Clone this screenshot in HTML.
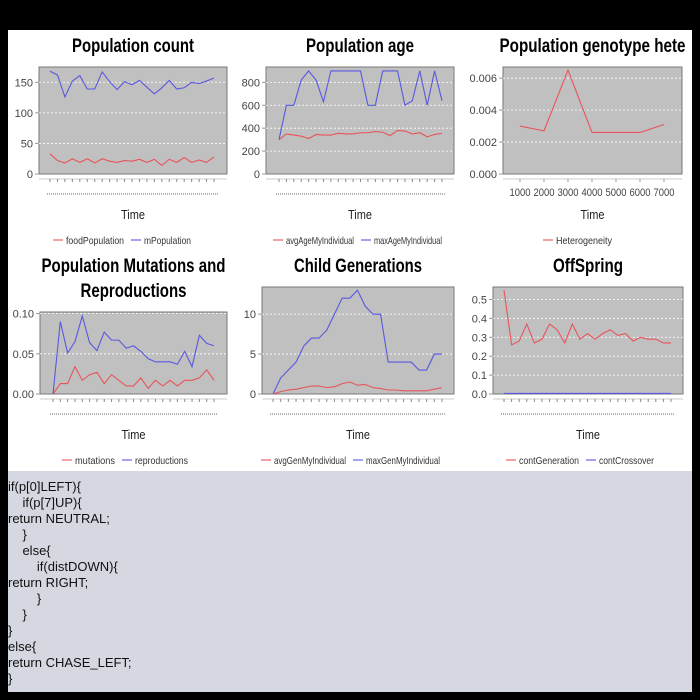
<!DOCTYPE html>
<html><head><meta charset="utf-8"><style>
body{margin:0;background:#000;width:700px;height:700px;overflow:hidden;font-family:"Liberation Sans",sans-serif}
#panel{position:absolute;left:8px;top:30px;width:684px;height:441px;background:#fff}
#code{position:absolute;left:8px;top:471px;width:684px;height:221px;background:#d5d8e1;font-size:13px;color:#111;line-height:16px;padding-top:8px;box-sizing:border-box}
#code div{white-space:pre;height:16px}
svg{position:absolute;left:0;top:0}
</style></head><body>
<div id="panel"></div>
<svg id="svg" width="700" height="700"></svg>
<div id="code">
<div>if(p[0]LEFT){</div><div>    if(p[7]UP){</div><div>return NEUTRAL;</div><div>    }</div><div>    else{</div><div>        if(distDOWN){</div><div>return RIGHT;</div><div>        }</div><div>    }</div><div>}</div><div>else{</div><div>return CHASE_LEFT;</div><div>}</div>
</div>
<script>
const c1Food=[33,22,18,25,19,25,18,25,21,19,22,21,24,19,24,14,24,19,27,19,23,19,28];
const c1Pop=[168,162,126,152,161,139,139,167,151,138,151,146,153,142,131,141,153,139,141,150,148,152,157];
const c2Avg=[300,350,340,330,310,345,340,340,355,350,350,360,360,370,365,335,380,375,350,360,325,345,355];
const c2Max=[300,600,600,820,900,820,630,900,900,900,900,900,600,600,900,900,900,600,640,900,600,900,640];
const c3X=[1000,2000,3000,4000,5000,6000,7000];
const c3Het=[0.0030,0.0027,0.0065,0.0026,0.0026,0.0026,0.0031];
const c4Mut=[0,0.013,0.013,0.034,0.017,0.024,0.027,0.013,0.024,0.017,0.010,0.010,0.020,0.007,0.017,0.010,0.017,0.010,0.017,0.017,0.020,0.030,0.017];
const c4Rep=[0,0.090,0.051,0.065,0.097,0.064,0.054,0.077,0.067,0.067,0.057,0.060,0.053,0.044,0.040,0.040,0.040,0.037,0.053,0.034,0.073,0.063,0.060];
const c5Avg=[0,0.3,0.5,0.6,0.8,1.0,1.0,0.8,0.9,1.3,1.5,1.1,1.2,0.8,0.7,0.5,0.5,0.4,0.4,0.4,0.4,0.6,0.8];
const c5Max=[0,2,3,4,6,7,7,8,10,12,12,13,11,10,10,4,4,4,4,3,3,5,5];
const c6Gen=[0.55,0.26,0.28,0.37,0.27,0.29,0.37,0.34,0.27,0.37,0.29,0.32,0.29,0.32,0.34,0.31,0.32,0.28,0.30,0.29,0.29,0.27,0.27];
const c6Cross=[0.003,0.003,0.003,0.003,0.003,0.003,0.003,0.003,0.003,0.003,0.003,0.003,0.003,0.003,0.003,0.003,0.003,0.003,0.003,0.003,0.003,0.003,0.003];
const t1=[0,50,100,150],t2=[0,200,400,600,800],t3=[0,0.002,0.004,0.006],t4=[0,0.05,0.10],t5=[0,5,10],t6=[0,0.1,0.2,0.3,0.4,0.5];
const NS='http://www.w3.org/2000/svg';const svg=document.getElementById('svg');
function el(t,a,p){const e=document.createElementNS(NS,t);for(const k in a)e.setAttribute(k,a[k]);(p||svg).appendChild(e);return e;}
const RED='#e8545a',BLUE='#5858e0';
function chart(o){
 const g=el('g',{});
 
 
 const [L,T,R,B]=o.box;const ymax=o.ymax;
 const y=v=>B-v/ymax*(B-T);
 let x;
 if(o.xs){x=v=>o.xr[0]+(v-o.xd[0])/(o.xd[1]-o.xd[0])*(o.xr[1]-o.xr[0]);}
 else{const n=o.series[0].data.length;x=i=>o.xr[0]+i*(o.xr[1]-o.xr[0])/(n-1);}
 o.title.forEach((tl,k)=>{const t=el('text',{x:(L+R)/2,y:o.ty+k*25,'text-anchor':'middle','font-size':19,'font-weight':'bold',fill:'#000',textLength:tl.w,lengthAdjust:'spacingAndGlyphs'},g);t.textContent=tl.s;});
 const pa=el('rect',{x:L,y:T,width:R-L,height:B-T,fill:'#c0c0c0',stroke:'#777','stroke-width':1},g);
 
 o.ticks.forEach(v=>{
  if(v>0){const gl=el('line',{x1:L,x2:R,y1:y(v),y2:y(v),stroke:'#fff','stroke-width':0.8,'stroke-dasharray':'2,2'},g);}
  el('line',{x1:L-4,x2:L,y1:y(v),y2:y(v),stroke:'#999'},g);
  const t=el('text',{x:L-6,y:y(v)+4,'text-anchor':'end','font-size':11,fill:'#444'},g);t.textContent=o.fmt(v);
  
 });
 el('line',{x1:L,x2:R,y1:B+5,y2:B+5,stroke:'#ccc'},g);
 if(o.xs){o.xs.forEach(v=>{el('line',{x1:x(v),x2:x(v),y1:B+5,y2:B+8,stroke:'#999'},g);const t=el('text',{x:x(v),y:B+22,'text-anchor':'middle','font-size':11,fill:'#444',textLength:21,lengthAdjust:'spacingAndGlyphs'},g);t.textContent=v;});}
 else{const n=o.series[0].data.length;for(let i=0;i<n;i++)el('line',{x1:x(i),x2:x(i),y1:B+5,y2:B+8,stroke:'#888'},g);
  el('line',{x1:o.xr[0]-3,x2:o.xr[1]+4,y1:B+20,y2:B+20,stroke:'#666','stroke-dasharray':'1,1'},g);}
 const tt=el('text',{x:(L+R)/2,y:B+45,'text-anchor':'middle','font-size':13,fill:'#222',textLength:24,lengthAdjust:'spacingAndGlyphs'},g);tt.textContent='Time';
 
 o.series.forEach(s=>{
  const pts=s.data.map((v,i)=>(o.xs?x(o.xs[i]):x(i))+','+y(v)).join(' ');
  const pl=el('polyline',{points:pts,fill:'none',stroke:s.c,'stroke-width':1.1},g);
  
 });
 let lx=o.lx;
 o.series.forEach(s=>{
  const lg=el('g',{},g);
  el('line',{x1:lx,x2:lx+10,y1:B+66,y2:B+66,stroke:s.c,'stroke-width':1.1},lg);
  const t=el('text',{x:lx+13,y:B+70,'font-size':10.5,fill:'#333',textLength:s.w,lengthAdjust:'spacingAndGlyphs'},lg);t.textContent=s.n;
  lx+=s.w+20;
 });
}
const f0=v=>String(v);
chart({name:'population-count-chart',box:[39,67,227,174],ymax:175,xr:[50,214],ticks:t1,fmt:f0,ty:52,title:[{s:'Population count',w:122}],lx:53,
 series:[{n:'foodPopulation',data:c1Food,c:RED,w:58},{n:'mPopulation',data:c1Pop,c:BLUE,w:47}]});
chart({name:'population-age-chart',box:[266,67,454,174],ymax:934,xr:[279,442],ticks:t2,fmt:f0,ty:52,title:[{s:'Population age',w:108}],lx:273,
 series:[{n:'avgAgeMyIndividual',data:c2Avg,c:RED,w:68},{n:'maxAgeMyIndividual',data:c2Max,c:BLUE,w:68}]});
chart({name:'population-genotype-chart',box:[503,67,682,174],ymax:0.0067,xs:c3X,xd:[1000,7000],xr:[520,664],ticks:t3,fmt:v=>v.toFixed(3),ty:52,title:[{s:'Population genotype hete',w:186}],lx:543,
 series:[{n:'Heterogeneity',data:c3Het,c:RED,w:56}]});
chart({name:'mutations-reproductions-chart',box:[40,312,227,394],ymax:0.102,xr:[53,214],ticks:t4,fmt:v=>v.toFixed(2),ty:272,title:[{s:'Population Mutations and',w:184},{s:'Reproductions',w:106}],lx:62,
 series:[{n:'mutations',data:c4Mut,c:RED,w:40},{n:'reproductions',data:c4Rep,c:BLUE,w:53}]});
chart({name:'child-generations-chart',box:[262,287,454,394],ymax:13.4,xr:[273,442],ticks:t5,fmt:f0,ty:272,title:[{s:'Child Generations',w:128}],lx:261,
 series:[{n:'avgGenMyIndividual',data:c5Avg,c:RED,w:72},{n:'maxGenMyIndividual',data:c5Max,c:BLUE,w:74}]});
chart({name:'offspring-chart',box:[493,287,683,394],ymax:0.566,xr:[504,671],ticks:t6,fmt:v=>v.toFixed(1),ty:272,title:[{s:'OffSpring',w:70}],lx:506,
 series:[{n:'contGeneration',data:c6Gen,c:RED,w:60},{n:'contCrossover',data:c6Cross,c:BLUE,w:55}]});
</script>
</body></html>
